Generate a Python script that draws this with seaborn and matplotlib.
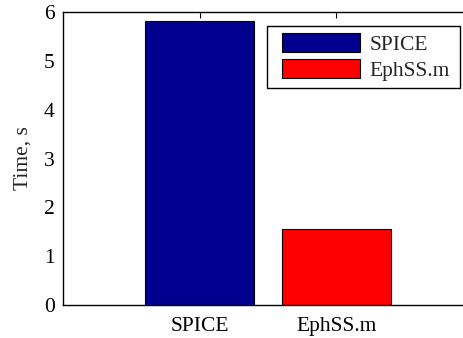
import matplotlib
matplotlib.use("Agg")
import matplotlib.pyplot as plt
from matplotlib.patches import Rectangle
import seaborn as sns
import pandas as pd

categories = ["SPICE", "EphSS.m"]
times = [5.82, 1.56]
colors = ["#00008F", "#FF0000"]
yticks = [0, 1, 2, 3, 4, 5, 6]

sns.set_style("white")
plt.rcParams['font.family'] = ['Liberation Serif', 'DejaVu Serif']

df = pd.DataFrame({"method": categories, "time": times})

FS = 15.5
X0, X1, Y0, Y1 = 63, 473, 12, 305
def ax_x(px):
    return (px - X0) / (X1 - X0)
def ax_y(py):
    return (Y1 - py) / (Y1 - Y0)

fig = plt.figure(figsize=(4.64, 3.38), dpi=100)
ax = fig.add_axes([X0/464, (338-Y1)/338, (X1-X0)/464, (Y1-Y0)/338])
sns.barplot(data=df, x="method", y="time", hue="method", palette=colors,
            dodge=False, width=0.8, edgecolor="black", linewidth=0.8,
            saturation=1, ax=ax, legend=True)
ax.set_xlim(-1, 2)
ax.set_ylim(0, 6)
ax.set_yticks(yticks)
ax.set_xlabel("")
ax.set_ylabel("Time, s", fontsize=FS, labelpad=8)
ax.tick_params(axis="y", direction="in", labelsize=FS, length=4, width=0.8,
               right=False, colors="black", pad=6)
ax.tick_params(axis="x", direction="in", labelsize=FS, length=4, width=0.8,
               top=True, colors="black", pad=8.5)
for s in ax.spines.values():
    s.set_visible(True)
    s.set_color("black")
    s.set_linewidth(1.0)
leg = ax.legend(loc="upper left", bbox_to_anchor=(ax_x(275.5), ax_y(27)),
                fontsize=FS, frameon=False,
                handlelength=3.63, handleheight=0.93, borderaxespad=0,
                labelspacing=0.2, handletextpad=0.45, borderpad=0.3)
for h in leg.legend_handles:
    h.set_edgecolor("black")
    h.set_linewidth(0.8)
frame = Rectangle((ax_x(267), ax_y(88)), ax_x(460) - ax_x(267), ax_y(26) - ax_y(88),
                  transform=ax.transAxes, facecolor="white", edgecolor="black",
                  linewidth=1.0, zorder=4)
ax.add_patch(frame)
leg.set_zorder(5)
fig.savefig("out.png", dpi=100)
